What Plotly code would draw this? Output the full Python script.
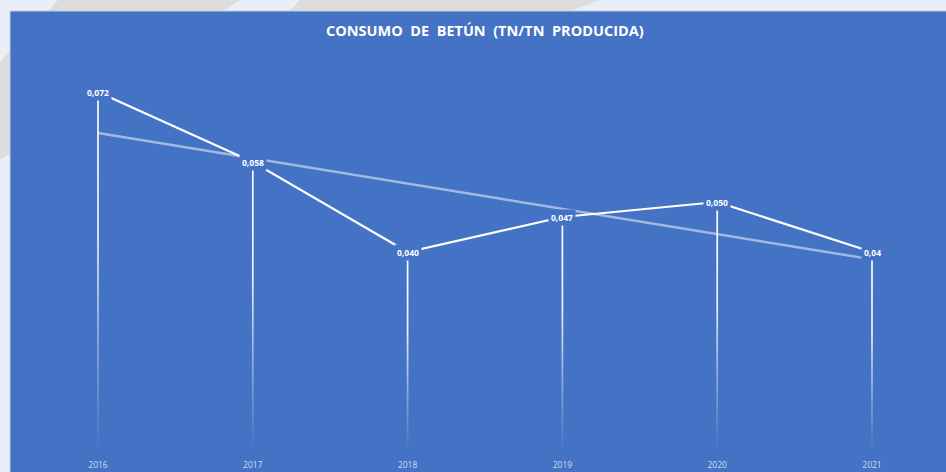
import numpy as np
import plotly.graph_objects as go

years = ["2016", "2017", "2018", "2019", "2020", "2021"]
consumo = [0.072, 0.058, 0.040, 0.047, 0.050, 0.040]
etiquetas = ["0,072", "0,058", "0,040", "0,047", "0,050", "0,04"]

BLUE = "#4472C4"
W, H = 946, 472
L, R, T, B = 10, 0, 60, 20

def px(x):
    return (x - L) / (W - L - R)

def py(y):
    return (H - B - y) / (H - T - B)

xs = list(range(len(years)))

# linear trendline (excel style)
k, b0 = np.polyfit(xs, consumo, 1)
trend = [b0 + k * x for x in xs]

fig = go.Figure()

# drop lines with fading gradient
d = 0.0055
for x, v in zip(xs, consumo):
    fig.add_trace(go.Scatter(
        x=[x - d, x + d, x + d, x - d, x - d],
        y=[0, 0, v, v, 0],
        mode="lines", line=dict(width=0), fill="toself",
        fillgradient=dict(
            type="vertical", start=0, stop=v,
            colorscale=[[0, "rgba(255,255,255,0)"], [0.3, "rgba(255,255,255,0.4)"],
                        [0.6, "rgba(255,255,255,0.9)"], [1, "rgba(255,255,255,1)"]]),
        hoverinfo="skip", showlegend=False))

fig.add_trace(go.Scatter(x=xs, y=trend, mode="lines",
                         line=dict(color="rgba(255,255,255,0.5)", width=2.5),
                         hoverinfo="skip", showlegend=False))
fig.add_trace(go.Scatter(x=xs, y=consumo, mode="lines",
                         line=dict(color="white", width=2.2),
                         showlegend=False))

for x, v, t in zip(xs, consumo, etiquetas):
    fig.add_annotation(x=x, y=v, text="<b>%s</b>" % t, showarrow=False,
                       font=dict(family="Open Sans", size=8.5, color="white"),
                       bgcolor=BLUE, borderpad=2)

fig.add_annotation(xref="paper", yref="paper", x=px(485), y=py(30),
                   text="<b>CONSUMO  DE  BETÚN  (TN/TN  PRODUCIDA)</b>", showarrow=False,
                   font=dict(family="Open Sans", size=14.5, color="white"),
                   xanchor="center", yanchor="middle")

shapes = [
    dict(type="path", xref="paper", yref="paper", layer="below",
         path="M %f %f L %f %f L %f %f L %f %f Z" % (px(58), py(0), px(240), py(0), px(0), py(160), px(0), py(62)),
         fillcolor="#DDDDDD", line=dict(width=0)),
    dict(type="path", xref="paper", yref="paper", layer="below",
         path="M %f %f L %f %f L %f %f L %f %f Z" % (px(300), py(0), px(600), py(0), px(520), py(30), px(270), py(30)),
         fillcolor="#DDDDDD", line=dict(width=0)),
    dict(type="rect", xref="paper", yref="paper", layer="below",
         x0=px(10), x1=px(950), y0=py(475), y1=py(11),
         fillcolor=BLUE, line=dict(color="#C9CCD2", width=1)),
]

fig.update_layout(
    width=W, height=H,
    margin=dict(l=L, r=R, t=T, b=B),
    paper_bgcolor="#E9EEF7",
    plot_bgcolor="rgba(0,0,0,0)",
    shapes=shapes,
    xaxis=dict(range=[-(98 - L) / 154.8, 5 + (W - R - 872) / 154.8],
               tickvals=xs, ticktext=years, showgrid=False, zeroline=False,
               showline=False, ticks="", ticklabelstandoff=6,
               tickfont=dict(family="Open Sans", size=8.5, color="rgba(255,255,255,0.75)")),
    yaxis=dict(range=[0, 0.0784], visible=False, showgrid=False),
)

fig.write_html("out.html", config={"displayModeBar": False},
               post_script="document.body.style.margin='0';document.body.style.overflow='hidden';")
